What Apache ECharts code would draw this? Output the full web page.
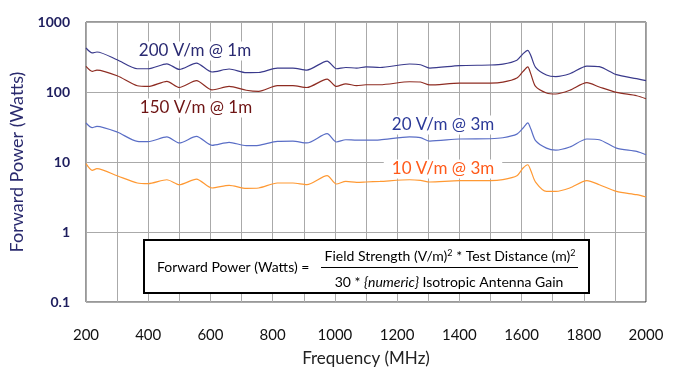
<!DOCTYPE html>
<html>
<head>
<meta charset="utf-8">
<script src="https://cdn.jsdelivr.net/npm/echarts@6/dist/echarts.min.js"></script>
<style>html,body{margin:0;padding:0;background:#fff}#c{width:673px;height:386px}</style>
</head>
<body>
<div id="c"></div>
<script>
const freqMHz = [200, 220, 235, 300, 365, 400, 460, 500, 555, 605, 660, 715, 755, 815, 865, 910, 975, 1005, 1035, 1070, 1100, 1145, 1240, 1275, 1305, 1400, 1500, 1540, 1585, 1605, 1620, 1630, 1645, 1680, 1710, 1755, 1810, 1850, 1905, 1970, 2000];
const power200Vm1m = [425, 361, 373, 289, 215, 215, 253, 210, 259, 193, 213, 189, 190, 220, 220, 206, 277, 215, 224, 220, 228, 224, 251, 245, 220, 238, 243, 250, 285, 353, 393, 330, 225, 175, 166, 182, 235, 230, 177, 155, 145];
const power150Vm1m = [232, 197, 206, 171, 123, 120, 142, 116, 145, 107, 120, 106, 102, 123, 123, 116, 153, 120, 131, 123, 127, 127, 140, 139, 126, 134, 134, 138, 158, 197, 228, 180, 120, 96.8, 93.6, 106, 136, 118, 98.6, 88.5, 80.2];
const power20Vm3m = [36.1, 30.9, 32.3, 26.8, 19.7, 19.5, 22.8, 18.7, 23.2, 17.3, 19.1, 17.1, 17.3, 19.7, 19.9, 18.7, 25.4, 19.3, 20.8, 20.5, 20.5, 20.7, 22.8, 22.3, 19.9, 21.3, 21.5, 22.2, 25.0, 30.6, 36.1, 29.5, 20.2, 15.8, 14.8, 16.4, 21.3, 20.8, 15.8, 14.2, 12.7];
const power10Vm3m = [9.46, 7.59, 8.02, 6.37, 5.01, 4.90, 5.58, 4.74, 5.71, 4.25, 4.64, 4.20, 4.25, 5.01, 5.01, 4.74, 6.37, 4.85, 5.28, 5.12, 5.18, 5.28, 5.58, 5.46, 5.18, 5.41, 5.41, 5.6, 6.35, 8.21, 9.14, 7.5, 5.15, 3.80, 3.80, 4.25, 5.41, 4.74, 3.80, 3.41, 3.16];
const yTickLabels = ['0.1', '1', '10', '100', '1000'];
const seriesNames = ['200 V/m @ 1m', '150 V/m @ 1m', '20 V/m @ 3m', '10 V/m @ 3m'];

const FONT = 'Lato, "Open Sans", sans-serif';
const pairs = arr => freqMHz.map((f, i) => [f, arr[i]]);
const mk = (name, arr, color) => ({
  name, type: 'line', data: pairs(arr), showSymbol: false, smooth: 0.25,
  lineStyle: { color, width: 1.2 }, itemStyle: { color }, z: 3
});

const chart = echarts.init(document.getElementById('c'), null, { renderer: 'canvas' });

const labelText = (text, x, y, color) => ({
  type: 'text', x, y, z: 50,
  style: { text, fill: color, font: '17px ' + FONT, align: 'center', verticalAlign: 'middle',
           backgroundColor: '#fff', padding: [1, 8] }
});

chart.setOption({
  backgroundColor: '#fff',
  animation: false,
  grid: { left: 86, right: 27, top: 22, bottom: 84, show: true, borderColor: '#333', borderWidth: 1, backgroundColor: 'transparent' },
  xAxis: {
    type: 'value', min: 200, max: 2000, interval: 100,
    name: 'Frequency (MHz)', nameLocation: 'middle', nameGap: 48,
    nameTextStyle: { fontFamily: FONT, fontSize: 17, color: '#222' },
    axisLine: { show: false }, axisTick: { show: false },
    axisLabel: { margin: 26, fontFamily: FONT, fontSize: 15, color: '#111',
      formatter: v => (v % 200 === 0 ? String(v) : '') },
    splitLine: { show: true, lineStyle: { color: '#aaa', width: 1 } }
  },
  yAxis: {
    type: 'log', logBase: 10, min: 0.1, max: 1000,
    name: 'Forward Power (Watts)', nameLocation: 'middle', nameGap: 54,
    nameTextStyle: { fontFamily: FONT, fontSize: 18, color: '#2a2a6e' },
    axisLine: { show: false }, axisTick: { show: false },
    axisLabel: { margin: 16, fontFamily: FONT, fontSize: 14, fontWeight: 'bold', color: '#1e1e5e',
      formatter: v => { const e = Math.round(Math.log10(v)); return yTickLabels[e + 1]; } },
    splitLine: { show: true, lineStyle: { color: '#aaa', width: 1 } },
    minorSplitLine: { show: false }
  },
  series: [
    mk(seriesNames[0], power200Vm1m, '#3a3a8c'),
    mk(seriesNames[1], power150Vm1m, '#8e2c22'),
    mk(seriesNames[2], power20Vm3m, '#5a6ec6'),
    mk(seriesNames[3], power10Vm3m, '#ff9933')
  ],
  graphic: [
    labelText(seriesNames[0], 195, 51, '#2a2a72'),
    labelText(seriesNames[1], 196, 108, '#6e1414'),
    labelText(seriesNames[2], 443, 125, '#2c3a98'),
    labelText(seriesNames[3], 443, 169, '#ff5a1a'),
    { type: 'rect', z: 50, shape: { x: 144, y: 240, width: 445, height: 53 },
      style: { fill: '#fff', stroke: '#000', lineWidth: 2 } },
    { type: 'text', z: 51, x: 157, y: 267,
      style: { text: 'Forward Power (Watts) =', fill: '#000', font: '14px ' + FONT, align: 'left', verticalAlign: 'middle' } },
    { type: 'text', z: 51, x: 450, y: 256,
      style: { text: '{a|Field Strength (V/m)}{s|2}{a| * Test Distance (m)}{s|2}', align: 'center', verticalAlign: 'middle',
        rich: { a: { font: '14px ' + FONT, fill: '#000', verticalAlign: 'bottom' },
                s: { font: '9px ' + FONT, fill: '#000', verticalAlign: 'top' } } } },
    { type: 'line', z: 51, shape: { x1: 321, y1: 267.5, x2: 578, y2: 267.5 }, style: { stroke: '#000', lineWidth: 1 } },
    { type: 'text', z: 51, x: 449, y: 282,
      style: { text: '{a|30 * }{{i|numeric}}{a| Isotropic Antenna Gain}', align: 'center', verticalAlign: 'middle',
        font: 'italic 14px ' + FONT, fill: '#000',
        rich: { a: { font: '14px ' + FONT, fill: '#000' },
                i: { font: 'italic 14px ' + FONT, fill: '#000' } } } }
  ]
});
</script>
</body>
</html>
